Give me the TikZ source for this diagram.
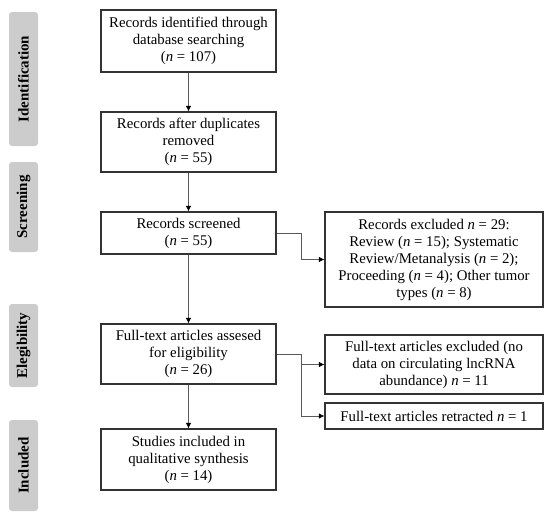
\documentclass[tikz,border=0pt]{standalone}
\usepackage{fontspec}
\setmainfont{Liberation Serif}
\usepackage{tikz}
\usetikzlibrary{arrows.meta}
\usetikzlibrary{positioning}
\tikzset{
    stepbox/.style={
        draw=black!80,
        line width=1.1pt,
        fill=white,
        align=center,
        inner sep=2pt,
        font=\fontsize{14.8}{17}\selectfont
    },
    stage/.style={
        fill=black!20,
        rounded corners=3pt,
        rotate=90,
        minimum height=29pt,
        inner sep=0pt,
        font=\fontsize{15}{17}\selectfont\bfseries
    },
    flow/.style={
        draw=black!65,
        line width=0.8pt,
        -{Latex[length=5.5pt, width=5.5pt, color=black]}
    }
}
\newcommand{\nn}{\textit{n}}

\begin{document}
\begin{tikzpicture}[x=1pt, y=-1pt]
  \useasboundingbox (0,0) rectangle (550,522);

  % stage labels on the left
  \foreach \lbl/\yc/\len [count=\i] in {Identification/79/134, Screening/207/90, Elegibility/345.5/83, Included/465.5/91} {
    \node[stage, minimum width=\len pt] (s\i) at (23.5,\yc) {\lbl};
  }

  % main column
  \node[stepbox, minimum width=175pt, minimum height=62pt] (rec1) at (188.5,41) {Records identified through\\database searching\\(\nn{} = 107)};
  \node[stepbox, minimum width=175pt, minimum height=60pt] (rec2) at (188.5,142) {Records after duplicates\\removed\\(\nn{} = 55)};
  \node[stepbox, minimum width=175pt, minimum height=42pt] (rec3) at (188.5,233) {Records screened\\(\nn{} = 55)};
  \node[stepbox, minimum width=175pt, minimum height=60pt] (rec4) at (188.5,354) {Full-text articles assesed\\for eligibility\\(\nn{} = 26)};
  \node[stepbox, minimum width=175pt, minimum height=61pt] (rec5) at (188.5,459.5) {Studies included in\\qualitative synthesis\\(\nn{} = 14)};

  % exclusions
  \node[stepbox, minimum width=218pt, minimum height=95pt] (excl1) at (434,259.5) {Records excluded \nn{} = 29:\\Review (\nn{} = 15); Systematic\\Review/Metanalysis (\nn{} = 2);\\Proceeding (\nn{} = 4); Other tumor\\types (\nn{} = 8)};
  \node[stepbox, minimum width=218pt, minimum height=59pt] (excl2) at (434,364.5) {Full-text articles excluded (no\\data on circulating lncRNA\\abundance) \nn{} = 11};
  \node[stepbox, minimum width=218pt, minimum height=26pt] (retr) at (434,416) {Full-text articles retracted \nn{} = 1};

  \draw[flow] (rec1) -- (rec2);
  \draw[flow] (rec2) -- (rec3);
  \draw[flow] (rec3) -- (rec4);
  \draw[flow] (rec4) -- (rec5);
  \draw[flow] (rec3.east) -- ++(25,0) |- (excl1.west);
  \draw[flow] (rec4.east) -- ++(25,0) coordinate (split) |- (excl2.west);
  \draw[flow] (split) |- (retr.west);
\end{tikzpicture}
\end{document}
